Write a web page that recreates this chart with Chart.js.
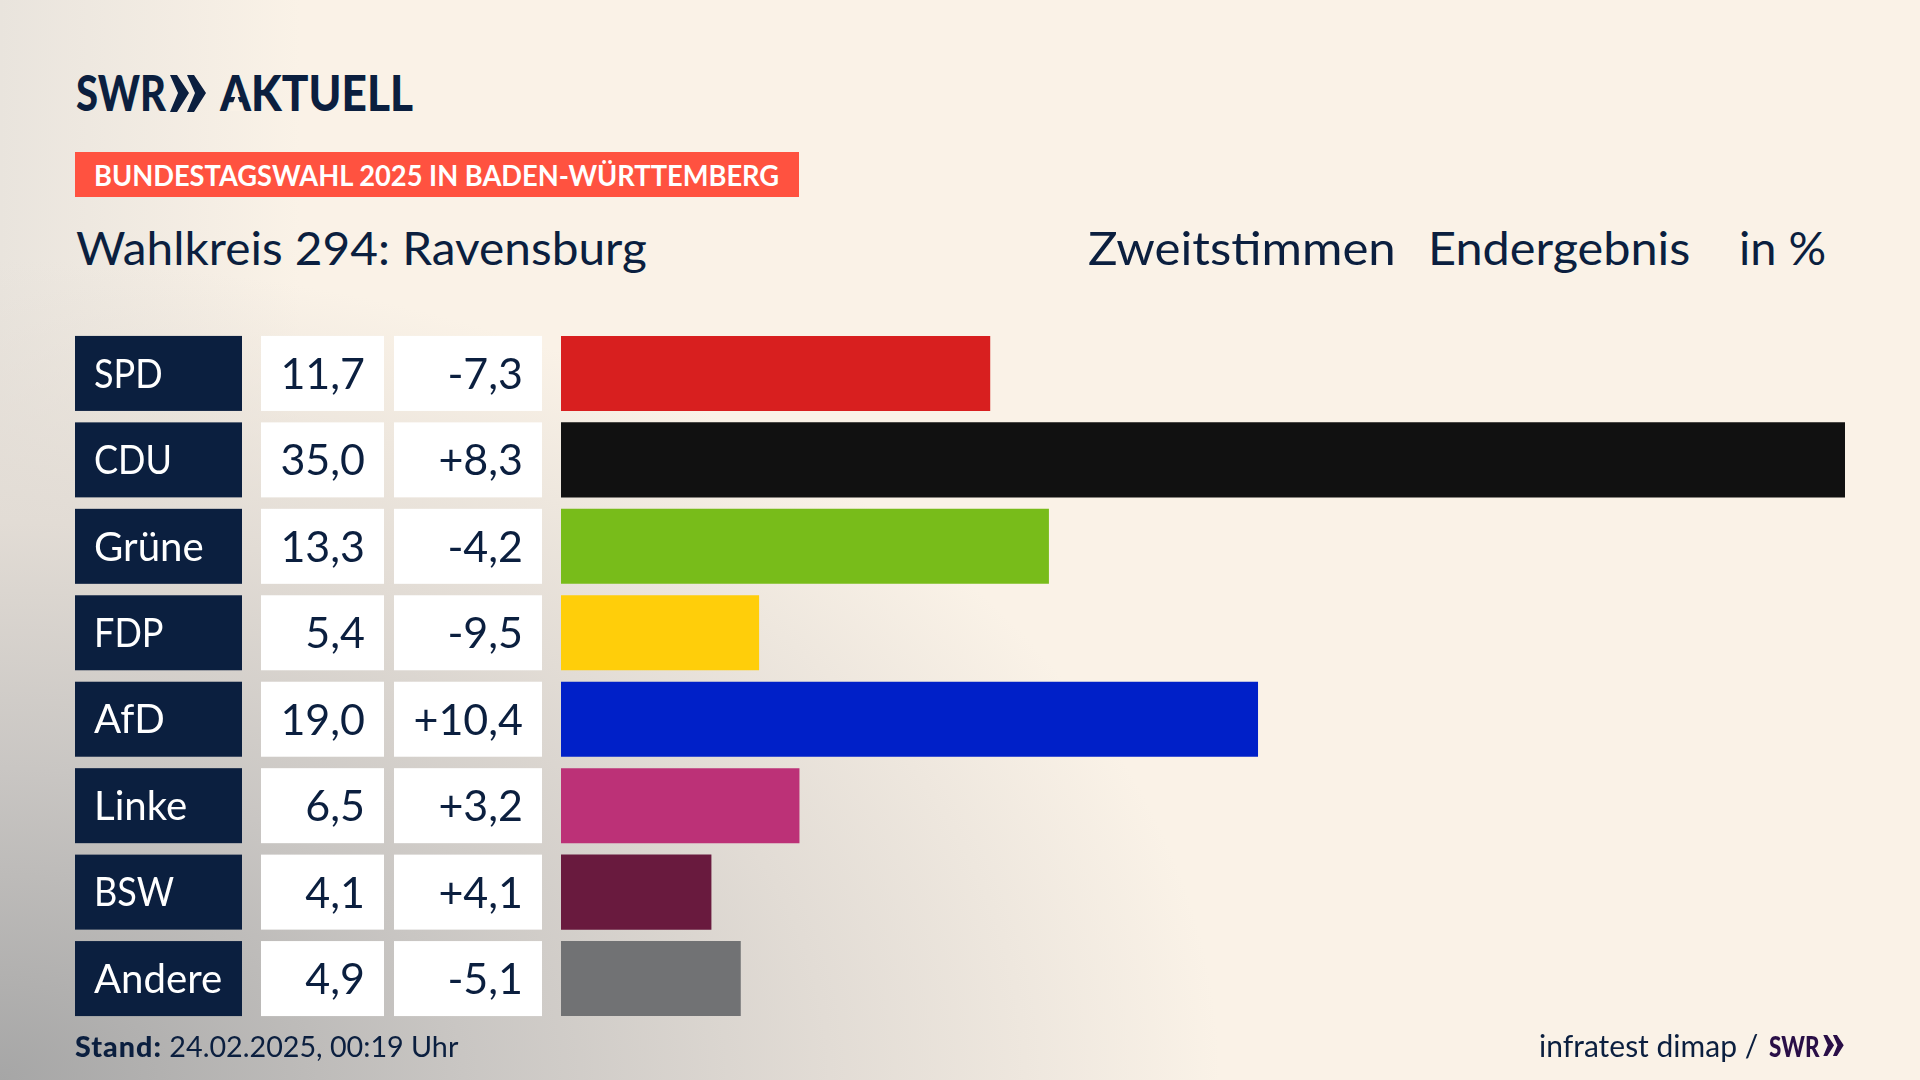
<!DOCTYPE html>
<html lang="de">
<head>
<meta charset="utf-8">
<title>Wahlkreis 294: Ravensburg</title>
<script src="https://cdn.jsdelivr.net/npm/chart.js@4/dist/chart.umd.min.js"></script>
<style>
  html, body { margin: 0; padding: 0; width: 1920px; height: 1080px; overflow: hidden; }
  body {
    position: relative;
    font-family: Lato, "Noto Sans", sans-serif;
    color: #0b1f3f;
    background:
      radial-gradient(ellipse 1220px 820px at 0 1080px, #a6a6a6 0%, #c9c6c3 38%, #e2dcd5 68%, rgba(250,242,231,0) 100%),
      linear-gradient(90deg, #e9e4dd 0, rgba(250,242,231,0) 300px),
      #faf2e7;
  }
  canvas { position: absolute; left: 0; top: 0; }
  .txt { position: absolute; white-space: nowrap; line-height: 1; transform-origin: left top; }
  #logo { left: 76px; top: 67px; font-size: 50px; font-weight: 900; transform: scaleX(.8); }
  #logo-aktuell { left: 220px; top: 67px; font-size: 50px; font-weight: 900; transform: scaleX(.885); }
  #logo-steg { position: absolute; left: 230px; top: 95px; width: 13px; height: 16px; background: #f9f1e6; clip-path: polygon(46% 0, 54% 0, 100% 100%, 0 100%); }
  #banner { position: absolute; left: 75px; top: 152px; width: 724px; height: 45px; background: #ff5240; }
  #banner-text { left: 94px; top: 160px; font-size: 29px; font-weight: 700; color: #fff; transform: scaleX(.94); }
  #titel { left: 76px; top: 224px; font-size: 47px; transform: scaleX(1.017); }
  #zweit { left: 1088px; top: 224px; font-size: 47px; transform: scaleX(1.046); }
  #ender { left: 1428px; top: 224px; font-size: 47px; transform: scaleX(1.035); }
  #einheit { left: 1739px; top: 224px; font-size: 47px; }
  #stand { left: 75px; top: 1032px; font-size: 28px; transform: scaleX(1.025); }
  #stand b { font-weight: 900; letter-spacing: 1px; }
  #quelle { left: 1539px; top: 1030px; font-size: 30px; }
  #quelle-swr { left: 1769px; top: 1032px; font-size: 28px; font-weight: 900; color: #2a0f47; transform: scaleX(.8); }
  svg { position: absolute; }
</style>
</head>
<body>
  <div class="txt" id="logo">SWR</div>
  <svg style="left:170px;top:75px" width="36" height="37" viewBox="0 0 36 37"><path fill="#0b1f3f" d="M0 0h7l12 18L7 37H0l8-19zM17 0h7l12 18-12 19h-7l8-19z"/></svg>
  <div class="txt" id="logo-aktuell">AKTUELL</div>
  <div id="logo-steg"></div>
  <div id="banner"></div>
  <div class="txt" id="banner-text">BUNDESTAGSWAHL 2025 IN BADEN-WÜRTTEMBERG</div>
  <div class="txt" id="titel">Wahlkreis 294: Ravensburg</div>
  <div class="txt" id="zweit">Zweitstimmen</div>
  <div class="txt" id="ender">Endergebnis</div>
  <div class="txt" id="einheit">in %</div>
  <canvas id="bar-chart" width="1920" height="1080"></canvas>
  <div class="txt" id="stand"><b>Stand:</b> 24.02.2025, 00:19 Uhr</div>
  <div class="txt" id="quelle">infratest dimap /</div>
  <div class="txt" id="quelle-swr">SWR</div>
  <svg style="left:1822px;top:1035px" width="23" height="21" viewBox="0 0 36 37"><path fill="#2a0f47" d="M0 0h7l12 18L7 37H0l8-19zM17 0h7l12 18-12 19h-7l8-19z"/></svg>

<script>
const parteien = ["SPD", "CDU", "Grüne", "FDP", "AfD", "Linke", "BSW", "Andere"];
const ergebnis = [11.7, 35.0, 13.3, 5.4, 19.0, 6.5, 4.1, 4.9];
const differenz = [-7.3, 8.3, -4.2, -9.5, 10.4, 3.2, 4.1, -5.1];
const farben = ["#d81f1f", "#111111", "#78bc1a", "#ffce0a", "#0020c8", "#bc3177", "#691a3e", "#717274"];

const formatWert = wert => wert.toFixed(1).replace(".", ",");
const formatDiff = wert => (wert > 0 ? "+" : "") + formatWert(wert);

// left-hand table cells, one row per category, placed with the y scale
const tabelle = {
  id: "tabelle",
  afterDatasetsDraw(chart) {
    const ctx = chart.ctx;
    const y = chart.scales.y;
    const hoehe = 75;
    ctx.save();
    ctx.textBaseline = "middle";
    parteien.forEach((partei, i) => {
      const mitte = y.getPixelForValue(i);
      const oben = mitte - hoehe / 2;

      ctx.fillStyle = "#0b1f3f";
      ctx.fillRect(75, oben, 167, hoehe);
      ctx.fillStyle = "#ffffff";
      ctx.fillRect(261, oben, 123, hoehe);
      ctx.fillRect(394, oben, 148, hoehe);

      // the original face has narrow capitals
      ctx.font = '41px Lato, "Noto Sans", sans-serif';
      ctx.textAlign = "left";
      const breite = ctx.measureText(partei).width;
      const schmal = partei === partei.toUpperCase() ? 0.88 : 0.98;
      ctx.fillText(partei, 94, mitte + 1, breite * schmal);

      ctx.font = '43px Lato, "Noto Sans", sans-serif';
      ctx.fillStyle = "#0b1f3f";
      ctx.textAlign = "right";
      ctx.fillText(formatWert(ergebnis[i]), 365, mitte + 1.5);
      ctx.fillText(formatDiff(differenz[i]), 523, mitte + 1.5);
    });
    ctx.restore();
  }
};

const config = {
  type: "bar",
  data: {
    labels: parteien,
    datasets: [{
      data: ergebnis,
      backgroundColor: farben,
      borderWidth: 0,
      barPercentage: 0.868,
      categoryPercentage: 1,
    }],
  },
  options: {
    indexAxis: "y",
    responsive: false,
    devicePixelRatio: 1,
    animation: false,
    layout: { padding: { left: 561, right: 75, top: 330.2, bottom: 58.2 } },
    plugins: { legend: { display: false }, tooltip: { enabled: false } },
    scales: {
      x: { display: false, min: 0, max: 35 },
      y: { display: false },
    },
  },
  plugins: [tabelle],
};

new Chart(document.getElementById("bar-chart"), config);
</script>
</body>
</html>
